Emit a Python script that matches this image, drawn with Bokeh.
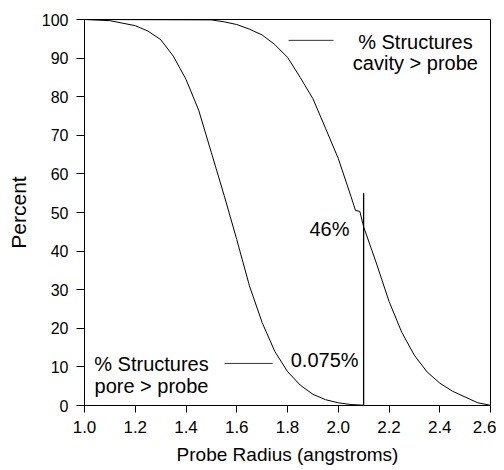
from bokeh.plotting import figure
from bokeh.models import ColumnDataSource, Range1d, FixedTicker
from bokeh.core.properties import value
from bokeh.embed import file_html
from bokeh.resources import INLINE

# ---- data ----
radius_pore = [1.0, 1.1, 1.2, 1.25, 1.3, 1.35, 1.4, 1.45, 1.5, 1.55, 1.6, 1.65,
               1.7, 1.75, 1.8, 1.85, 1.9, 1.95, 2.0, 2.05, 2.1]
pct_pore = [100, 99.7, 98.4, 97.0, 94.8, 90.5, 84.5, 76.5, 65.5, 54.5, 43.0, 31.0,
            21.5, 14.0, 8.8, 5.3, 2.9, 1.5, 0.7, 0.25, 0.075]

radius_cavity = [1.0, 1.5, 1.55, 1.6, 1.65, 1.7, 1.75, 1.8, 1.85, 1.9, 1.95, 2.0,
                 2.05, 2.068, 2.085, 2.1, 2.15, 2.2, 2.25, 2.3, 2.35, 2.4, 2.45,
                 2.5, 2.55, 2.6]
pct_cavity = [100, 99.9, 99.4, 98.7, 97.5, 96.0, 93.5, 90.2, 85.0, 79.5, 71.8, 64.0,
              54.2, 50.5, 50.3, 46.3, 36.9, 27.0, 19.0, 13.0, 8.7, 5.8, 3.7,
              2.2, 0.7, 0.05]

x_ticks = [1.0, 1.2, 1.4, 1.6, 1.8, 2.0, 2.2, 2.4, 2.6]
x_tick_labels = ["1.0", "1.2", "1.4", "1.6", "1.8", "2.0", "2.2", "2.4", "2.6"]
y_ticks = [0, 10, 20, 30, 40, 50, 60, 70, 80, 90, 100]

marker_radius = 2.1
marker_top = 55

# annotation texts and anchor positions (data units)
label_text = ["% Structures", "cavity > probe", "% Structures", "pore > probe"]
label_x = [2.304, 2.304, 1.264, 1.264]
label_y = [94.3, 88.8, 10.8, 5.1]

key_x0 = [1.804, 1.552]
key_x1 = [1.981, 1.741]
key_y = [94.6, 10.9]

value_text = ["46%", "0.075%"]
value_x = [2.044, 2.08]
value_y = [45.8, 11.9]

FONT = "Liberation Sans"

p = figure(width=496, height=470,
           x_range=Range1d(1.0, 2.6), y_range=Range1d(0, 100),
           output_backend="svg", toolbar_location=None,
           min_border_left=84, min_border_right=6,
           min_border_top=19, min_border_bottom=65)

p.background_fill_color = "white"
p.border_fill_color = "white"
p.outline_line_color = "black"
p.outline_line_width = 1
p.outline_line_alpha = 1
p.grid.visible = False

# curves
p.line(radius_pore, pct_pore, line_color="black", line_width=1)
p.line(radius_cavity, pct_cavity, line_color="black", line_width=1)

# vertical marker
p.segment(x0=[marker_radius], y0=[0], x1=[marker_radius], y1=[marker_top],
          line_color="black", line_width=1.3)

# key lines
p.segment(x0=key_x0, y0=key_y, x1=key_x1, y1=key_y,
          line_color="black", line_width=0.8)

# annotation labels
src_lab = ColumnDataSource(dict(x=label_x, y=label_y, t=label_text))
p.text(x="x", y="y", text="t", source=src_lab, text_align="center",
       text_baseline="alphabetic", text_font=value(FONT),
       text_font_size="20px", text_color="black")

src_val = ColumnDataSource(dict(x=value_x, y=value_y, t=value_text))
p.text(x="x", y="y", text="t", source=src_val, text_align="right",
       text_baseline="alphabetic", text_font=value(FONT),
       text_font_size="20px", text_color="black")

# axes
p.xaxis.ticker = FixedTicker(ticks=x_ticks)
p.xaxis.major_label_overrides = {t: l for t, l in zip(x_ticks, x_tick_labels)}
p.yaxis.ticker = FixedTicker(ticks=y_ticks)

for ax in (p.xaxis, p.yaxis):
    ax.axis_line_color = "black"
    ax.axis_line_width = 1
    ax.major_tick_line_color = "black"
    ax.major_tick_in = 0
    ax.minor_tick_line_color = None
    ax.major_label_text_font = FONT
    ax.major_label_text_color = "black"
    ax.axis_label_text_font = FONT
    ax.axis_label_text_font_style = "normal"
    ax.axis_label_text_color = "black"

p.xaxis.axis_label_text_font_size = "19px"
p.yaxis.axis_label_text_font_size = "21px"
p.xaxis.major_tick_out = 7
p.yaxis.major_tick_out = 8
p.xaxis.major_label_text_font_size = "17px"
p.yaxis.major_label_text_font_size = "16px"
p.xaxis.major_label_standoff = 8
p.yaxis.major_label_standoff = 8
p.xaxis.axis_label = "Probe Radius (angstroms)"
p.yaxis.axis_label = "Percent"
p.xaxis.axis_label_standoff = 8
p.yaxis.axis_label_standoff = 9

open("out.html", "w").write(file_html(p, INLINE))
